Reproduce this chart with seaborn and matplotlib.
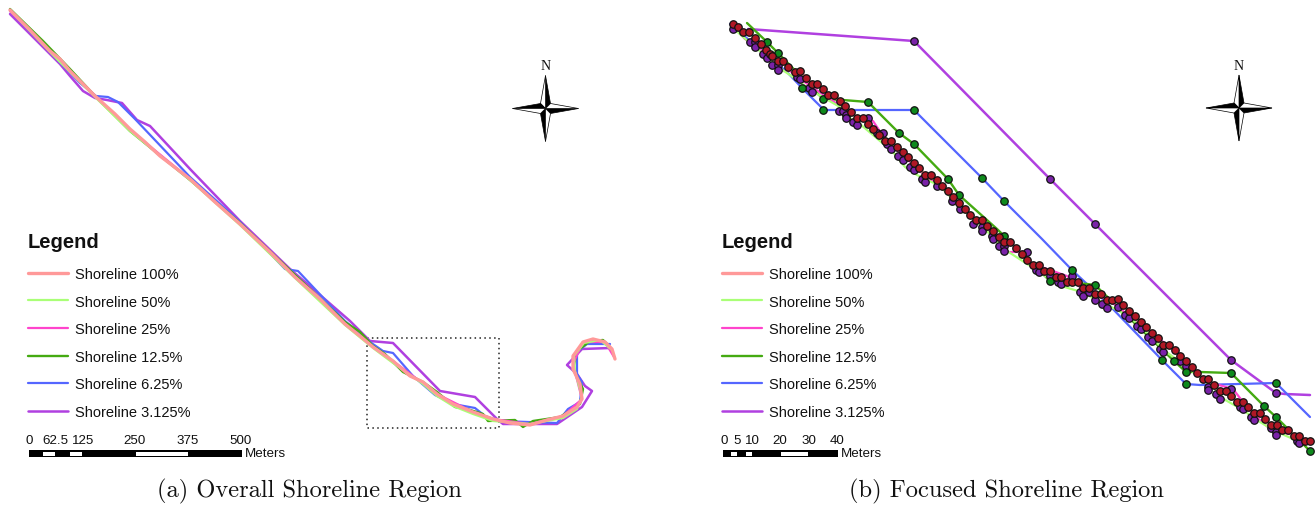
import matplotlib
matplotlib.use("Agg")
import matplotlib.pyplot as plt
from matplotlib.patches import Rectangle, Polygon
import seaborn as sns

sns.set_theme(style="white")
plt.rcParams['font.family'] = ['Liberation Sans', 'DejaVu Sans']
plt.rcParams['axes.unicode_minus'] = False

names = ["Shoreline 100%", "Shoreline 50%", "Shoreline 25%", "Shoreline 12.5%", "Shoreline 6.25%", "Shoreline 3.125%"]
colors = ["#FF9999", "#AAFF77", "#FF44CC", "#44AA11", "#5566FF", "#B040E0"]
widths = [2.4, 1.6, 1.6, 1.7, 1.6, 1.8]

# overall region (map units)
a100 = [(10,11),(30,31),(50,52),(60,60),(70,72),(95,97),(115,115),(130,130),(145,143),(160,157),(190,180),(215,203),(240,225),(270,253),(295,278),(320,300),(345,325),(360,337),(373,348),(393,362),(410,377),(423,383),(437,395),(453,405),(473,413),(493,420),(510,424),(530,426),(547,421),(563,417),(577,408),(582,400),(580,385),(573,370),(573,357),(583,343),(593,340),(605,343),(612,350),(615,360)]
a50 = [(10,11),(50,53),(95,98),(130,132),(190,181),(240,226),(295,279),(345,326),(373,349),(393,364),(423,385),(437,397),(453,407),(473,415),(493,422),(530,425),(563,419),(577,410),(582,398),(575,372),(574,357),(584,344),(600,341),(612,351)]
a25 = [(10,12),(50,52),(95,97),(130,131),(190,180),(240,225),(295,278),(345,325),(373,348),(393,362),(437,395),(473,413),(493,420),(530,425),(563,417),(582,400),(573,365),(583,343),(605,343),(614,358)]
a125 = [(10,10),(43,42),(70,70),(95,97),(130,132),(190,181),(240,224),(295,276),(345,323),(360,333),(373,347),(385,355),(403,373),(423,383),(437,393),(455,408),(467,410),(483,415),(488,422),(515,421),(523,428),(533,422),(560,418),(580,405),(583,390),(573,370),(577,352),(590,342),(603,341),(610,348)]
a625 = [(10,12),(50,53),(80,84),(96,97),(108,98),(118,103),(135,120),(190,178),(240,223),(285,270),(298,272),(345,322),(370,343),(383,352),(393,354),(413,377),(435,396),(453,405),(475,409),(485,417),(500,422),(557,424),(568,410),(580,403),(582,383),(577,375),(577,353),(587,345),(610,345)]
a3125 = [(10,15),(50,55),(60,65),(70,77),(83,92),(95,99),(107,101),(122,104),(137,121),(150,127),(190,170),(240,222),(290,270),(350,322),(370,342),(393,344),(440,392),(475,398),(497,420),(503,425),(557,425),(582,408),(592,392),(585,387),(577,375),(567,366),(582,350),(610,349)]
overall = [a100, a50, a25, a125, a625, a3125]

# focused region (map units)
b100 = [(733,25),(738,28),(743,33),(749,33),(755,39),(761,45),(766,51),(770,55),(772,57),(778,62),(783,62),(788,68),(795,73),(800,72),(806,79),(812,85),(817,85),(823,90),(828,96),(834,96),(840,102),(845,107),(851,113),(857,119),(863,119),(868,125),(873,130),(879,136),(885,142),(891,142),(897,148),(903,153),(908,158),(914,164),(919,169),(925,176),(931,176),(937,181),(942,187),(948,192),(953,198),(959,204),(965,210),(970,216),(976,221),(982,221),(987,227),(993,232),(999,238),(1004,243),(1010,243),(1016,249),(1022,255),(1027,261),(1033,266),(1039,266),(1044,272),(1050,272),(1056,278),(1061,278),(1067,283),(1072,283),(1078,283),(1083,289),(1089,289),(1095,295),(1101,295),(1107,301),(1112,301),(1118,300),(1123,306),(1129,312),(1135,317),(1141,323),(1146,328),(1152,334),(1158,339),(1163,346),(1169,346),(1175,351),(1180,357),(1186,362),(1192,368),(1197,374),(1203,380),(1208,380),(1214,386),(1220,392),(1226,392),(1231,397),(1237,403),(1243,403),(1248,408),(1254,414),(1260,414),(1265,420),(1271,426),(1277,426),(1282,431),(1288,431),(1294,437),(1299,437),(1305,442),(1310,442)]
b50 = [(733,29),(750,44),(772,62),(778,68),(790,76),(812,92),(840,108),(853,122),(860,125),(880,142),(893,153),(905,168),(917,176),(940,187),(960,208),(985,230),(1004,250),(1038,272),(1058,286),(1078,292),(1100,302),(1115,310),(1130,318),(1150,337),(1165,352),(1187,368),(1215,390),(1220,398),(1243,411),(1255,420),(1275,432),(1300,443)]
b25 = [(733,27),(745,40),(760,50),(770,58),(783,72),(790,72),(806,84),(830,100),(860,120),(873,122),(885,140),(920,172),(945,192),(965,212),(985,228),(1000,245),(1008,253),(1020,253),(1033,265),(1067,277),(1082,290),(1110,302),(1140,325),(1175,352),(1205,382),(1233,390),(1250,412),(1270,430),(1277,433),(1295,436),(1310,442)]
b125 = [(747,24),(767,43),(778,54),(823,100),(843,101),(868,103),(899,134),(914,145),(948,180),(959,196),(997,230),(1050,282),(1087,285),(1095,286),(1174,362),(1186,373),(1200,373),(1231,374),(1264,407),(1276,418),(1310,452)]
b625 = [(730,25),(787,73),(802,89),(821,108),(823,111),(914,111),(982,179),(1004,202),(1042,240),(1072,271),(1087,285),(1110,307),(1162,361),(1186,385),(1200,386),(1276,384),(1310,418)]
b3125 = [(748,30),(914,42),(1050,180),(1095,225),(1231,361),(1276,394),(1285,395),(1310,396)]
focused = [b100, b50, b25, b125, b625, b3125]

red_points = b100
purple_points = [(733,30),(750,43),(755,43),(755,48),(763,55),(767,59),(772,66),(778,66),(778,71),(797,78),(800,80),(809,89),(812,93),(839,112),(843,112),(846,116),(846,119),(853,123),(857,126),(868,119),(877,134),(883,134),(887,145),(891,150),(898,157),(903,161),(910,168),(914,171),(922,180),(925,183),(937,187),(952,202),(960,210),(973,225),(982,228),(982,232),(992,237),(993,240),(999,247),(1004,247),(1004,252),(1027,253),(1036,271),(1039,273),(1050,277),(1058,283),(1061,285),(1072,277),(1080,293),(1083,297),(1089,293),(1095,301),(1102,305),(1107,309),(1118,308),(1125,316),(1129,319),(1137,327),(1141,330),(1148,338),(1152,342),(1160,350),(1163,353),(1180,362),(1186,367),(1208,388),(1208,391),(1216,395),(1220,400),(1231,390),(1240,408),(1243,410),(1251,418),(1254,421),(1271,429),(1276,433),(1276,436),(1297,442),(1299,444)]
purple_nodes = [(914,42),(1050,180),(1095,225),(1231,361),(1276,394)]
green_nodes = [(767,43),(778,54),(802,89),(823,100),(823,111),(868,103),(899,134),(914,111),(914,145),(948,180),(982,179),(1004,202),(1004,237),(959,196),(1072,271),(1050,282),(1095,286),(1162,361),(1174,362),(1186,373),(1186,385),(1231,374),(1276,384),(1264,407),(1276,418),(1310,452)]

scale_a = ["0", "62.5", "125", "250", "375", "500"]
scale_a_pos = [29, 55.5, 83, 135, 188, 241]
scale_b = ["0", "5", "10", "20", "30", "40"]
scale_b_pos = [724, 737, 752, 780, 809, 837]

fig = plt.figure(figsize=(13.15, 5.06), dpi=100, facecolor="white")
ax = fig.add_axes([0, 0, 1, 1])
ax.set_xlim(0, 1315)
ax.set_ylim(506, 0)
ax.axis("off")

def draw_lines(series, gid):
    handles = []
    for i in range(5, -1, -1):
        xs = [p[0] for p in series[i]]
        ys = [p[1] for p in series[i]]
        n0 = len(ax.lines)
        sns.lineplot(x=xs, y=ys, color=colors[i], lw=widths[i], sort=False, estimator=None, errorbar=None, ax=ax, legend=False)
        handles.append(ax.lines[n0])
    return handles[::-1]

def dots(points, color, z):
    sns.scatterplot(x=[p[0] for p in points], y=[p[1] for p in points], s=29, color=color,
                    edgecolor="#111111", linewidth=0.9, ax=ax, zorder=z, legend=False)

h = draw_lines(overall, "a")
draw_lines(focused, "b")
dots(purple_points + purple_nodes, "#7A22A8", 4)
dots(green_nodes, "#0E8A1C", 5)
dots(red_points, "#B01825", 6)

# dotted focus box
ax.add_patch(Rectangle((367, 339), 132, 90, fill=False, ec="#222222", lw=1.1, ls=(0, (1, 2.2))))

def legend(x0):
    leg = ax.legend(h, names, loc="upper left", bbox_to_anchor=(x0 / 1315, 1 - 233 / 506), frameon=False,
                    title="Legend", alignment="left", fontsize=10.5, handlelength=2.75, handletextpad=0.48,
                    labelspacing=0.93, borderpad=0, borderaxespad=0, labelcolor="#111111",
                    title_fontproperties={"weight": "bold", "size": 14.5, "family": "Liberation Sans"})
    leg._legend_box.sep = 11.5
    leg.get_title().set_color("#111111")
    return leg

l1 = legend(28)
ax.add_artist(l1)
legend(722)

def scalebar(x0, x1, whites, labels, pos):
    ax.add_patch(Rectangle((x0, 450.5), x1 - x0, 7.5, fc="black", ec="none", zorder=7))
    for a, b in whites:
        ax.add_patch(Rectangle((a, 452.5), b - a, 4.5, fc="white", ec="none", zorder=8))
    for t, p in zip(labels, pos):
        ax.text(p, 441, t, ha="center", va="center", fontsize=9.6, color="#111111")
    ax.text(x1 + 3, 454, "Meters", ha="left", va="center", fontsize=9.6, color="#111111")

scalebar(29, 242, [(43.5, 55.5), (70, 82), (136, 188)], scale_a, scale_a_pos)
scalebar(723, 838, [(731, 737), (746, 752), (781, 808)], scale_b, scale_b_pos)

def compass(cx, cy):
    R, r = 33, 5
    n, s, w, e = (cx, cy - R), (cx, cy + R), (cx - R, cy), (cx + R, cy)
    ne, nw, se, sw = (cx + r, cy - r), (cx - r, cy - r), (cx + r, cy + r), (cx - r, cy + r)
    c = (cx, cy)
    for tri, col in [([n, ne, c], "black"), ([n, nw, c], "white"),
                     ([e, se, c], "black"), ([e, ne, c], "white"),
                     ([s, sw, c], "black"), ([s, se, c], "white"),
                     ([w, nw, c], "black"), ([w, sw, c], "white")]:
        ax.add_patch(Polygon(tri, closed=True, fc=col, ec="black", lw=0.5, zorder=3))
    ax.text(cx, cy - 43, "N", ha="center", va="center", fontsize=10, family="Liberation Serif", color="#111111")

compass(545.5, 109.5)
compass(1239, 109)

ax.text(309, 491, "(a) Overall Shoreline Region", ha="center", va="center", fontsize=17.6, family="cmr10", color="#111111")
ax.text(1006.5, 491, "(b) Focused Shoreline Region", ha="center", va="center", fontsize=17.6, family="cmr10", color="#111111")

fig.savefig("out.png", dpi=100, facecolor="white")
